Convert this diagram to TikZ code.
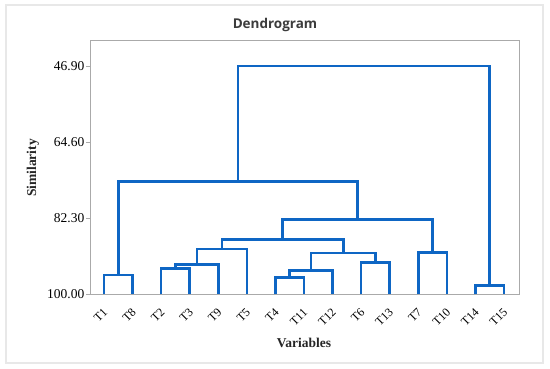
\documentclass[tikz,border=0pt]{standalone}
\usepackage{fontspec}
\setmainfont{Liberation Serif}
\newfontfamily\titlefont{Open Sans}
\definecolor{dblue}{RGB}{14,102,196}
\definecolor{framegray}{RGB}{170,170,170}
\definecolor{outergray}{RGB}{232,232,232}
\definecolor{titlegray}{RGB}{60,60,60}
\tikzset{
  link/.style={draw=dblue, line width=2.6pt, line join=miter},
  leaflab/.style={rotate=45, anchor=east, inner sep=0pt, font=\fontsize{12}{12}\selectfont},
  ticklab/.style={anchor=east, inner sep=0pt, font=\fontsize{13.5}{13.5}\selectfont},
  axtitle/.style={inner sep=0pt, font=\fontsize{13.5}{13.5}\selectfont\bfseries, text=black!85},
}
\begin{document}
\begin{tikzpicture}[x=1pt, y=-1pt]
\useasboundingbox (0,0) rectangle (550,369);
\fill[white] (0,0) rectangle (550,369);
% outer frame
\draw[outergray, line width=1.5pt] (6,5) rectangle (543,363);
% title
\node[inner sep=0pt, font=\titlefont\fontsize{13.5}{13.5}\selectfont\bfseries, text=titlegray] (title) at (275,25) {Dendrogram};
% plot frame
\draw[framegray, line width=0.9pt] (90,40) rectangle (519,294.3);
% y ticks
\foreach \v/\yy [count=\i] in {46.90/66, 64.60/142, 82.30/218.2, 100.00/294.3} {
  \draw[framegray, line width=0.9pt] (86,\yy) -- (90,\yy);
  \node[ticklab] (tick\i) at (84.5,\yy) {\v};
}
% axis titles
\node[axtitle, rotate=90] (ylab) at (33,168) {Similarity};
\node[axtitle] (xlab) at (304,343) {Variables};
% leaves
\foreach \n/\xx in {T1/104, T8/132.57, T2/161.14, T3/189.71, T9/218.29, T5/246.86, T4/275.43, T11/304, T12/332.57, T6/361.14, T13/389.71, T7/418.29, T10/446.86, T14/475.43, T15/504} {
  \coordinate (\n) at (\xx,294.3);
  \node[leaflab] (lab\n) at (\xx+1.5,310) {\n};
}
% merge points
\coordinate (m18) at (118.29,275);
\coordinate (m23) at (175.43,268.7);
\coordinate (m239) at (196.86,264.3);
\coordinate (m2395) at (221.86,249);
\coordinate (m411) at (289.71,277.3);
\coordinate (m41112) at (311.14,270.3);
\coordinate (m613) at (375.43,262.7);
\coordinate (mR) at (343.29,253);
\coordinate (mL) at (282.57,239.3);
\coordinate (m710) at (432.57,252.3);
\coordinate (mBig) at (357.57,219.7);
\coordinate (mA) at (237.93,181.7);
\coordinate (m1415) at (489.71,285.3);
\coordinate (mTop) at (363.82,66);
% links
\path[link] (T1) |- (m18) -| (T8);
\path[link] (T2) |- (m23) -| (T3);
\path[link] (m23) |- (m239) -| (T9);
\path[link] (m239) |- (m2395) -| (T5);
\path[link] (T4) |- (m411) -| (T11);
\path[link] (m411) |- (m41112) -| (T12);
\path[link] (T6) |- (m613) -| (T13);
\path[link] (m41112) |- (mR) -| (m613);
\path[link] (m2395) |- (mL) -| (mR);
\path[link] (T7) |- (m710) -| (T10);
\path[link] (mL) |- (mBig) -| (m710);
\path[link] (m18) |- (mA) -| (mBig);
\path[link] (T14) |- (m1415) -| (T15);
\path[link] (mA) |- (mTop) -| (m1415);
\end{tikzpicture}
\end{document}
